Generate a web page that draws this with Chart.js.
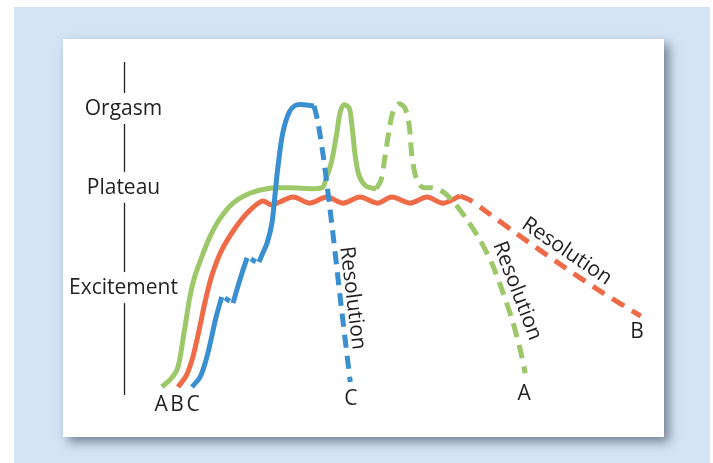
<!DOCTYPE html>
<html>
<head>
<meta charset="utf-8">
<script src="https://cdn.jsdelivr.net/npm/chart.js@4"></script>
<style>
  html, body { margin: 0; padding: 0; background: #fff; }
  body { width: 713px; height: 463px; position: relative; overflow: hidden; }
  .marco { position: absolute; left: 14px; top: 7px; width: 696px; height: 460px; background: #d4e4f4; }
  .tarjeta { position: absolute; left: 63px; top: 39px; width: 601px; height: 398px; background: #fff;
             box-shadow: 5px 5px 10px rgba(40, 50, 70, 0.55); }
  canvas { position: absolute; left: 0; top: 0; }
</style>
</head>
<body>
<div class="marco"></div>
<div class="tarjeta"></div>
<canvas id="chart-respuesta" width="713" height="463"></canvas>
<script>
// Curva de respuesta sexual - A, B, C

// Niveles del eje (etiquetas a la izquierda)
const etapas = ['Excitement', 'Plateau', 'Orgasm'];
const nivelesEtapa = [32.9, 62.4, 85.6];
const ejeDesde = 1.5;
const ejeHasta = 99.4;

// A (verde): excitacion -> meseta -> orgasmo (linea continua)
const verdeX = [7.0, 8.5, 9.8, 10.4, 11.0, 11.6, 12.2, 13.1, 14.4, 15.9, 17.8, 20.2, 23.3, 27.0, 30.7, 36.6,
                37.4, 38.5, 39.4, 40.0, 40.7, 41.7, 42.2, 42.8, 43.5, 44.8, 46.7];
const verdeY = [3.9, 5.9, 8.8, 12.7, 18.6, 24.5, 30.4, 36.3, 42.1, 48.0, 53.4, 57.9, 60.8, 62.3, 62.4, 62.4,
                65.0, 70.6, 78.5, 84.4, 86.8, 85.9, 80.9, 72.1, 66.2, 62.9, 62.1];
// A: segundo orgasmo y resolucion (discontinua)
const verdeResX = [46.7, 47.6, 48.3, 49.1, 49.8, 50.9, 52.0, 52.8, 53.3, 54.1, 55.2, 57.2, 59.1, 60.9, 63.3,
                   65.9, 68.1, 70.0, 71.9, 73.3, 74.3];
const verdeResY = [62.1, 64.7, 71.2, 79.4, 84.7, 87.1, 85.9, 80.9, 72.1, 65.3, 62.6, 62.4, 61.2, 58.5, 53.5,
                   47.1, 40.3, 32.4, 23.5, 15.3, 7.9];

// B (rojo): excitacion y meseta ondulada
const rojoX = [10.0, 11.5, 12.6, 13.5, 14.3, 15.0, 16.3, 18.1, 20.6, 23.0, 25.6, 27.4, 31.3, 34.4, 37.6, 40.6,
               43.7, 46.9, 49.6, 53.0, 56.1, 59.1, 62.2];
const rojoY = [3.8, 7.1, 11.8, 17.6, 23.5, 28.8, 36.8, 44.1, 50.6, 55.3, 58.5, 57.4, 59.7, 57.9, 59.7, 57.9,
               59.7, 57.9, 59.7, 57.9, 59.7, 57.9, 60.0];
const rojoResX = [62.2, 64.1, 67.2, 72.8, 80.7, 88.1, 95.7];
const rojoResY = [60.0, 58.8, 55.3, 48.8, 40.0, 32.1, 24.7];

// C (azul): excitacion escalonada, orgasmo, resolucion rapida
const azul1X = [12.6, 14.1, 15.2, 16.1, 17.0, 18.1];
const azul1Y = [3.8, 6.8, 11.8, 17.6, 24.1, 30.3];
const azulPaso1X = [18.7, 19.6];
const azulPaso1Y = [30.0, 29.1];
const azul2X = [20.2, 20.9, 21.9, 22.8];
const azul2Y = [28.5, 32.4, 37.6, 41.8];
const azulPaso2X = [23.5, 24.4];
const azulPaso2Y = [41.5, 40.6];
const azul3X = [25.0, 25.7, 26.5, 27.4, 28.0, 28.5, 29.4, 30.6, 32.0, 35.2];
const azul3Y = [40.6, 43.2, 46.2, 52.1, 60.9, 68.5, 78.5, 84.7, 86.8, 86.5];
const azulResX = [35.2, 35.9, 37.0, 38.5, 40.2, 41.9];
const azulResY = [86.5, 81.8, 70.6, 51.5, 27.9, 5.3];

// Letras y textos de resolucion
const letrasInicio = ['A', 'B', 'C'];
const letrasInicioX = [6.9, 9.8, 12.8];
const letrasInicioY = -3.2;
const letrasFin = ['A', 'B', 'C'];
const letrasFinX = [74.1, 95.0, 42.0];
const letrasFinY = [0.0, 18.2, -1.5];
const resolucionX = [72.8, 82.0, 42.3];
const resolucionY = [32.1, 43.7, 30.0];
const resolucionAngulo = [69, 34, 83];

const COLORS = {
    verde: '#9dc86a',
    rojo: '#ef6a46',
    azul: '#3a8fd1',
    texto: '#231f20'
};
const FUENTE = '"Open Sans", "Noto Sans", sans-serif';

function puntos(xs, ys) {
    return xs.map((x, i) => ({ x: x, y: ys[i] }));
}

function serie(xs, ys, color, dash) {
    return {
        data: puntos(xs, ys),
        borderColor: color,
        borderWidth: 5,
        borderDash: dash || [],
        borderCapStyle: 'butt',
        tension: 0.3,
        pointRadius: 0,
        fill: false,
        clip: false
    };
}

const textos = {
    id: 'textos',
    afterDatasetsDraw(chart) {
        const ctx = chart.ctx;
        const { x, y } = chart.scales;
        ctx.save();
        ctx.fillStyle = COLORS.texto;
        ctx.strokeStyle = COLORS.texto;
        ctx.font = '21px ' + FUENTE;
        ctx.textAlign = 'center';
        ctx.textBaseline = 'middle';

        // eje vertical con huecos para las etiquetas
        const ax = Math.round(x.getPixelForValue(0)) + 0.5;
        let yAbajo = y.getPixelForValue(ejeDesde);
        ctx.lineWidth = 1.3;
        etapas.forEach((et, i) => {
            const yc = y.getPixelForValue(nivelesEtapa[i]);
            ctx.beginPath();
            ctx.moveTo(ax, yAbajo);
            ctx.lineTo(ax, yc + 15);
            ctx.stroke();
            ctx.fillText(et, ax - 1, yc);
            yAbajo = yc - 16;
        });
        ctx.beginPath();
        ctx.moveTo(ax, yAbajo);
        ctx.lineTo(ax, y.getPixelForValue(ejeHasta));
        ctx.stroke();

        // letras
        ctx.font = '21px ' + FUENTE;
        ctx.textBaseline = 'alphabetic';
        letrasInicio.forEach((l, i) => {
            ctx.fillText(l, x.getPixelForValue(letrasInicioX[i]), y.getPixelForValue(letrasInicioY));
        });
        letrasFin.forEach((l, i) => {
            ctx.fillText(l, x.getPixelForValue(letrasFinX[i]), y.getPixelForValue(letrasFinY[i]));
        });

        // "Resolution" girado
        ctx.font = '21px ' + FUENTE;
        ctx.textBaseline = 'middle';
        resolucionX.forEach((rx, i) => {
            ctx.save();
            ctx.translate(x.getPixelForValue(rx), y.getPixelForValue(resolucionY[i]));
            ctx.rotate(resolucionAngulo[i] * Math.PI / 180);
            ctx.fillText('Resolution', 0, 0);
            ctx.restore();
        });
        ctx.restore();
    }
};

const ctx = document.getElementById('chart-respuesta').getContext('2d');
new Chart(ctx, {
    type: 'line',
    data: {
        datasets: [
            serie(azul1X, azul1Y, COLORS.azul),
            serie(azulPaso1X, azulPaso1Y, COLORS.azul),
            serie(azul2X, azul2Y, COLORS.azul),
            serie(azulPaso2X, azulPaso2Y, COLORS.azul),
            serie(azul3X, azul3Y, COLORS.azul),
            serie(azulResX, azulResY, COLORS.azul, [13, 8]),
            serie(verdeX, verdeY, COLORS.verde),
            serie(verdeResX, verdeResY, COLORS.verde, [14, 8]),
            serie(rojoX, rojoY, COLORS.rojo),
            serie(rojoResX, rojoResY, COLORS.rojo, [14, 9])
        ]
    },
    options: {
        responsive: false,
        animation: false,
        layout: { padding: { left: 124, right: 49, top: 60, bottom: 63 } },
        plugins: { legend: { display: false }, tooltip: { enabled: false } },
        scales: {
            x: { type: 'linear', min: 0, max: 100, display: false },
            y: { type: 'linear', min: 0, max: 100, display: false }
        }
    },
    plugins: [textos]
});
</script>
</body>
</html>
